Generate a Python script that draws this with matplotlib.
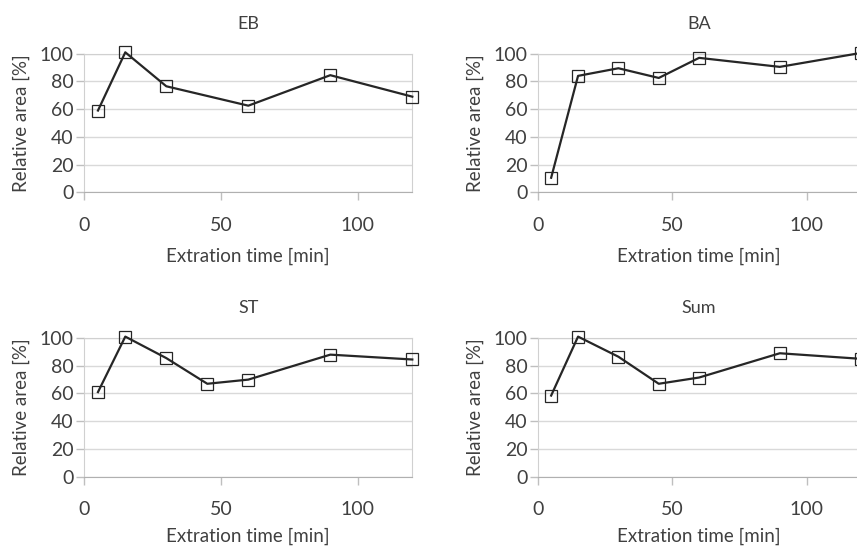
import matplotlib.pyplot as plt

#--------------- Style ---------------------
plt.rcParams['font.family'] = ['Lato', 'DejaVu Sans']
plt.rcParams['font.size'] = 13.5
plt.rcParams['text.color'] = '#404040'
plt.rcParams['axes.labelcolor'] = '#404040'
plt.rcParams['xtick.color'] = '#bfbfbf'
plt.rcParams['ytick.color'] = '#bfbfbf'
plt.rcParams['xtick.labelcolor'] = '#404040'
plt.rcParams['ytick.labelcolor'] = '#404040'
plt.rcParams['xtick.labelsize'] = 14
plt.rcParams['ytick.labelsize'] = 14

#---------------- Data ------------------
time_eb = [5, 15, 30, 60, 90, 120]
area_eb = [59, 101, 76.5, 62.5, 84.5, 69]

time_ba = [5, 15, 30, 45, 60, 90, 120]
area_ba = [10.5, 84, 89.5, 82.5, 97, 90.5, 100.5]

time_st = [5, 15, 30, 45, 60, 90, 120]
area_st = [61, 101, 85.5, 67, 70, 88, 84.5]

time_sum = [5, 15, 30, 45, 60, 90, 120]
area_sum = [58.5, 101, 86.5, 67, 71.5, 89, 85]

titles = ['EB', 'BA', 'ST', 'Sum']

#---------------- Graph ------------------
W, H = 857, 546
fig = plt.figure(figsize=(W / 100, H / 100), dpi=100)

# axes boxes in pixels: left, right, top, bottom
boxes = [(84.3, 412.3, 53.7, 192.3),
         (537.7, 860.5, 53.7, 192.3),
         (84.3, 412.3, 338, 476.7),
         (537.7, 860.5, 338, 476.7)]
series = [(time_eb, area_eb), (time_ba, area_ba), (time_st, area_st), (time_sum, area_sum)]

for i, ((l, r, t, b), (x, y), title) in enumerate(zip(boxes, series, titles)):
    ax = fig.add_axes([l / W, 1 - b / H, (r - l) / W, (b - t) / H])
    ax.plot(x, y, color='#262626', lw=1.6, marker='s', markersize=8.5,
            markerfacecolor='none', markeredgecolor='#262626', markeredgewidth=0.9,
            clip_on=False, zorder=3)
    ax.set_xlim(0, 120)
    ax.set_ylim(0, 100)
    ax.set_xticks([0, 50, 100])
    ax.set_yticks([0, 20, 40, 60, 80, 100])
    ax.grid(axis='y', color='#d9d9d9', lw=1)
    ax.set_axisbelow(True)
    for s in ['left', 'right', 'top']:
        ax.spines[s].set_color('#d0d0d0')
    ax.spines['bottom'].set_color('#b0b0b0')
    ax.tick_params(axis='y', length=6, width=1, pad=1.5)
    ax.tick_params(axis='x', length=6, width=1, pad=11.5)
    ax.set_title(title, fontsize=13, pad=18)
    ax.set_ylabel('Relative area [%]', labelpad=7)
    # bottom row sits against the lower edge
    ax.set_xlabel('Extration time [min]', labelpad=10 if i < 2 else 7)

fig.savefig('out.png', dpi=100)
